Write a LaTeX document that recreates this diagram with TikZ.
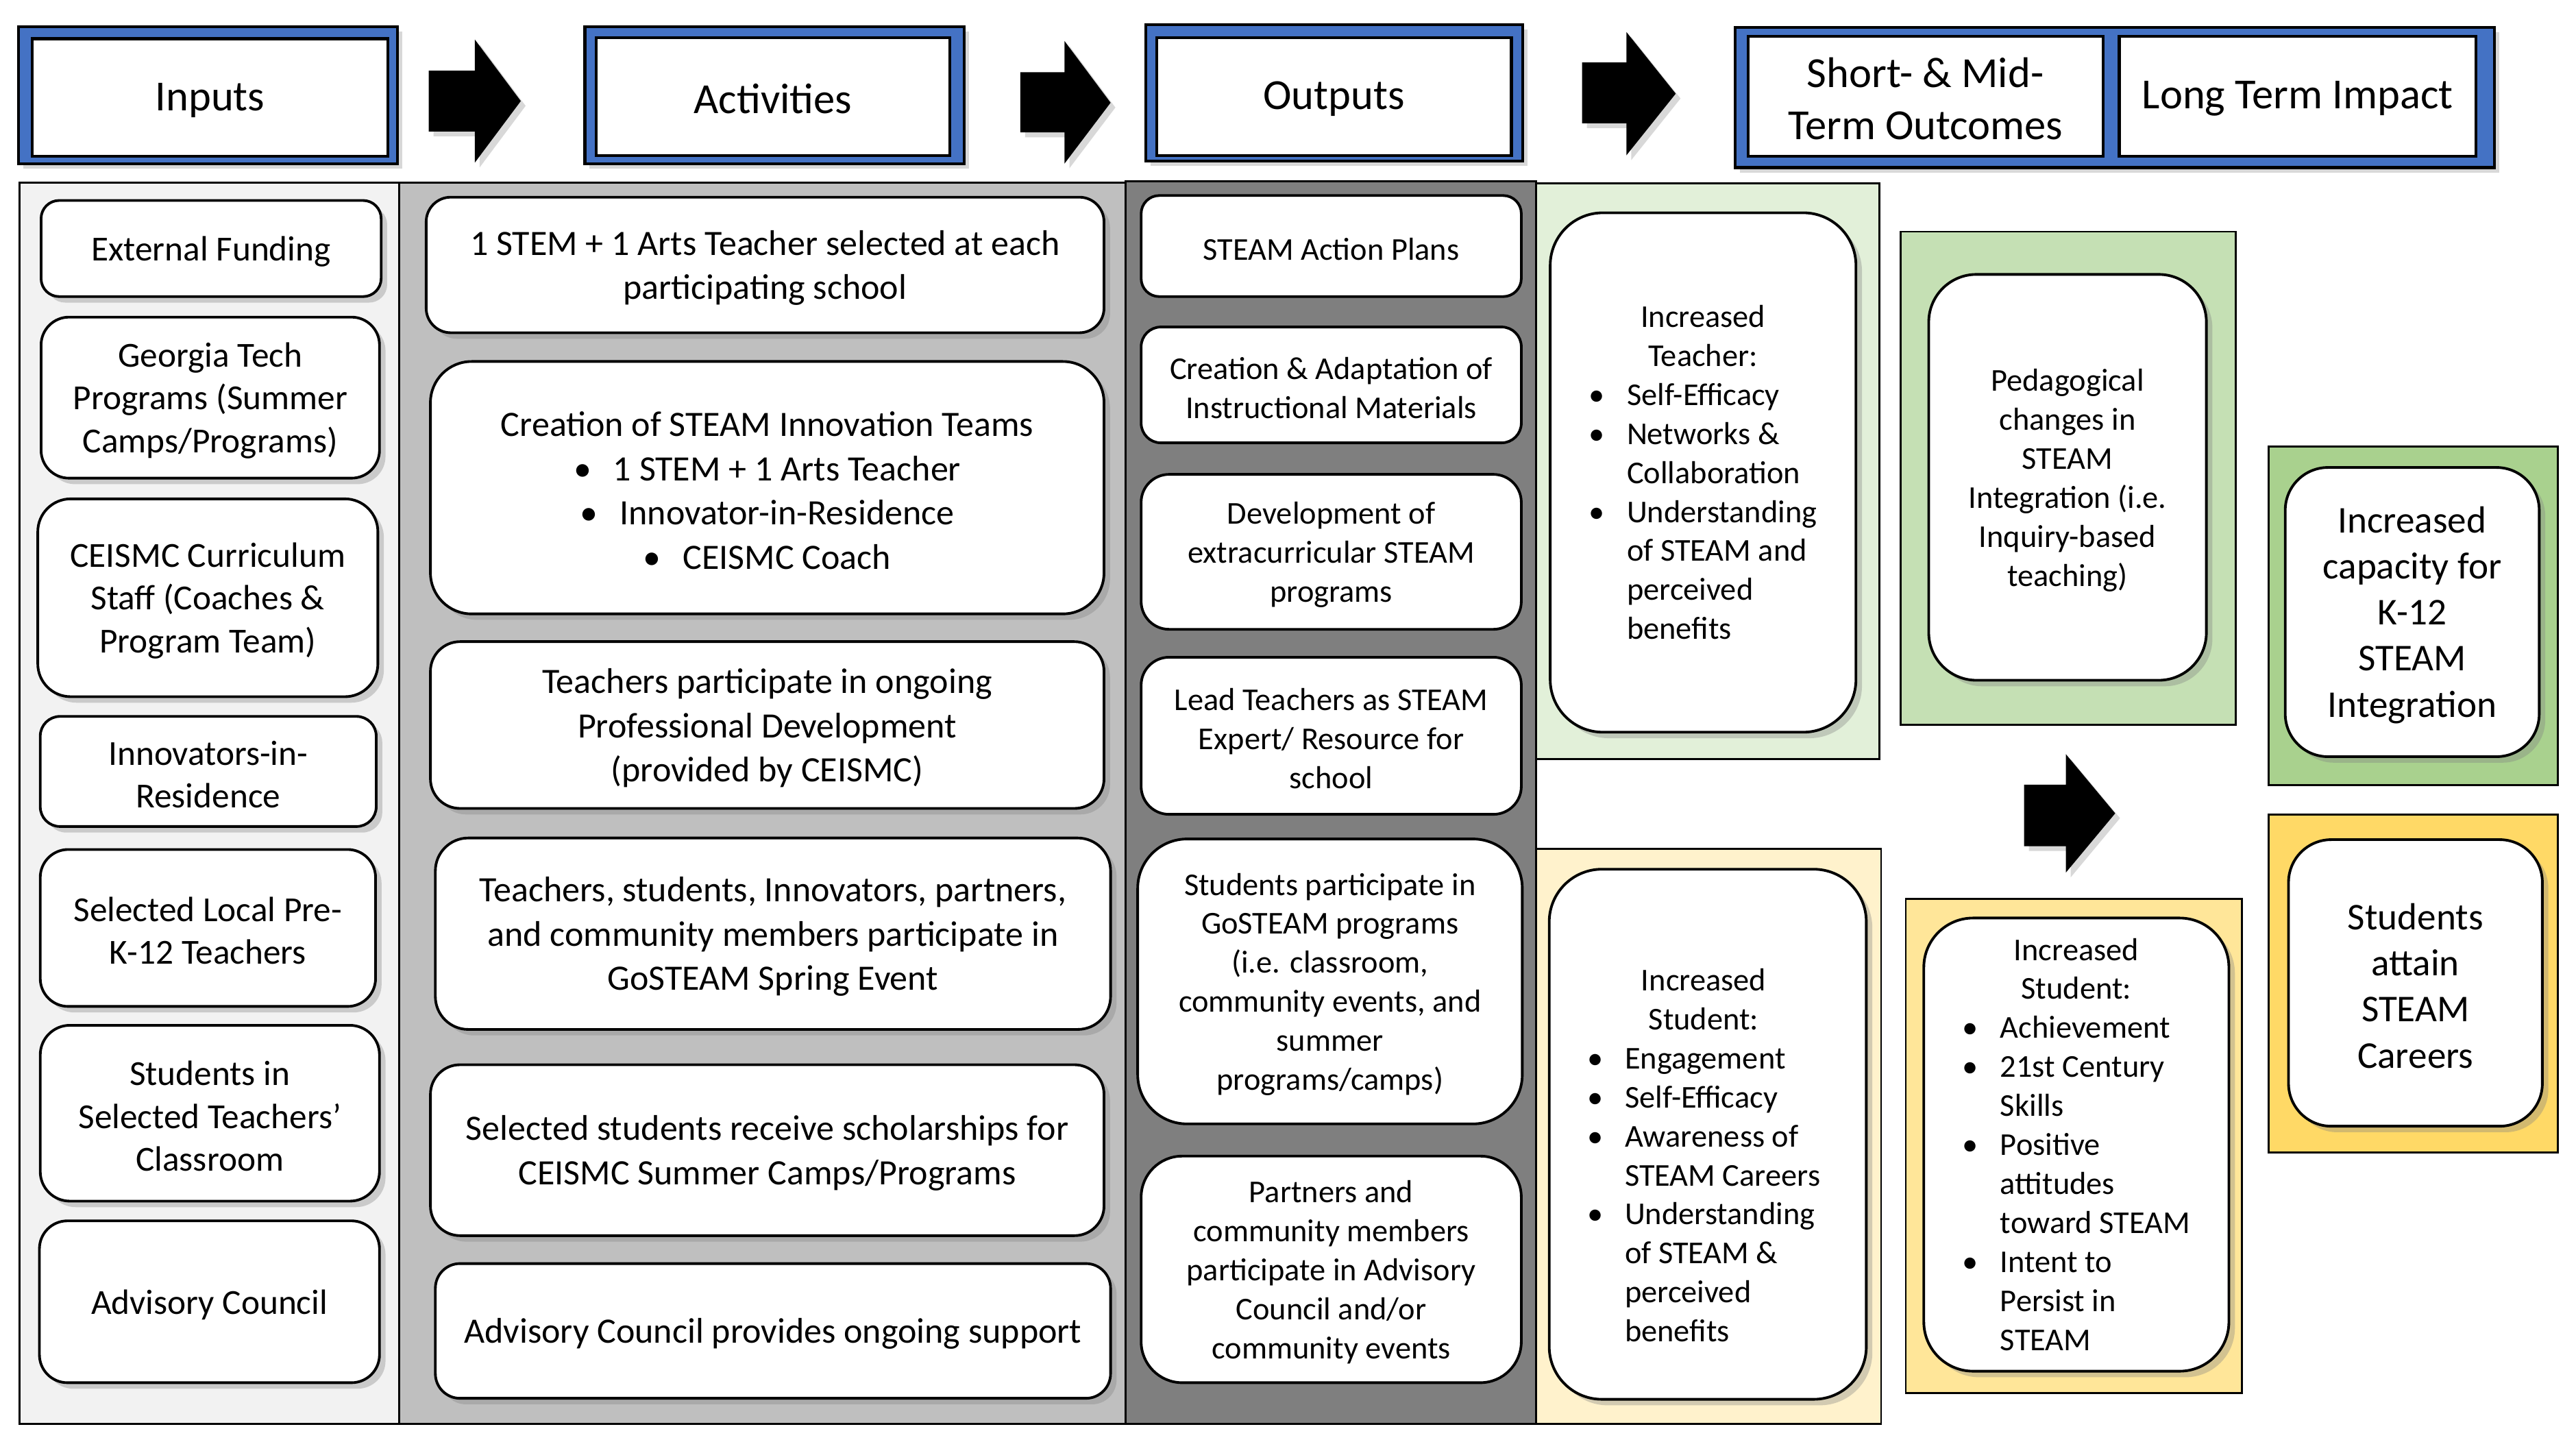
\documentclass[tikz,border=0pt]{standalone}
\usepackage{fontspec}
\setmainfont{Carlito}
\usetikzlibrary{shadows}
\newcommand{\uu}{0.023973cm}
\definecolor{hdrblue}{HTML}{4472C4}
\definecolor{pin}{HTML}{F2F2F2}
\definecolor{pact}{HTML}{BFBFBF}
\definecolor{pout}{HTML}{7F7F7F}
\definecolor{gA}{HTML}{E2F0D9}
\definecolor{gB}{HTML}{C5E0B4}
\definecolor{gC}{HTML}{A9D18E}
\definecolor{yA}{HTML}{FFF2CC}
\definecolor{yB}{HTML}{FFE699}
\definecolor{yC}{HTML}{FFD966}
\tikzset{
  panel/.style={draw=black, line width=0.8pt, inner sep=0pt},
  rbox/.style={draw=black, line width=1.1pt, fill=white, inner sep=0pt,
    drop shadow={shadow xshift=2.5pt, shadow yshift=-2.5pt, opacity=0.35}},
  btext/.style={inner sep=0pt, align=center},
  hout/.style={draw=black, line width=1.2pt, fill=hdrblue, inner sep=0pt,
    drop shadow={shadow xshift=2pt, shadow yshift=-2pt, opacity=0.3}},
  hin/.style={draw=black, line width=1.2pt, fill=white, inner sep=0pt},
  fhdr/.style={font=\fontsize{17.8}{21.8}\selectfont},
  fin/.style={font=\fontsize{14.6}{17.7}\selectfont},
  fact/.style={font=\fontsize{14.8}{18.4}\selectfont},
  fout/.style={font=\fontsize{13.2}{16.2}\selectfont},
  flong/.style={font=\fontsize{15.7}{19.1}\selectfont},
  blockarrow/.style={fill=black, drop shadow={shadow xshift=2pt, shadow yshift=-2pt, opacity=0.3}},
}
% rounded box with text: name, x1, y1, x2, y2, radius, font style, text
\newcommand{\bx}[8]{\node[rbox,rounded corners=#6*\uu,minimum width={(#4-#2)*\uu},minimum height={(#5-#3)*\uu}] (#1) at ({(#2+#4)/2},{(#3+#5)/2}) {};
\node[btext,#7] (#1-t) at ([yshift=-1.8*\uu]#1.center) {#8};}
% plain rectangle: name, x1, y1, x2, y2, style
\newcommand{\pn}[6]{\node[#6,minimum width={(#4-#2)*\uu},minimum height={(#5-#3)*\uu}] (#1) at ({(#2+#4)/2},{(#3+#5)/2}) {};}
% header inner box with text
\newcommand{\hb}[6]{\pn{#1}{#2}{#3}{#4}{#5}{hin}
\node[btext,fhdr] (#1-t) at ([yshift=-1.5*\uu]#1.center) {#6};}
\newcommand{\bul}{\textbullet}
\begin{document}
\begin{tikzpicture}[x=\uu, y=-\uu]
\useasboundingbox (0,0) rectangle (1568,876);
\fill[white] (0,0) rectangle (1568,876);

% ---------- header ----------
\pn{hin-o}{11.4}{16.4}{242}{99.8}{hout}
\hb{hin}{19.7}{23.6}{236}{95.2}{Inputs}
\pn{hac-o}{356}{16.4}{587}{99.8}{hout}
\hb{hac}{363}{23}{578}{94.6}{Activities}
\pn{hou-o}{697.5}{15}{927}{98}{hout}
\hb{hou}{704}{23}{920}{94.6}{Outputs}
\pn{hsm-o}{1056}{16.7}{1518.5}{102}{hout}
\hb{hsm}{1064}{22}{1280}{95}{Short- \& Mid-\\Term Outcomes}
\hb{hlt}{1290}{22}{1507}{95}{Long Term Impact}

\fill[blockarrow] (261,43) -- (289,43) -- (289,24) -- (317,61.5) -- (289,99) -- (289,80) -- (261,80) -- cycle;
\fill[blockarrow] (621,44) -- (648,44) -- (648,25) -- (676,62.5) -- (648,99.5) -- (648,80.6) -- (621,80.6) -- cycle;
\fill[blockarrow] (963,38) -- (990,38) -- (990,19.5) -- (1020,57) -- (990,94.5) -- (990,75) -- (963,75) -- cycle;

% ---------- panels ----------
\pn{pIn}{12}{111}{243}{866.5}{panel,fill=pin}
\pn{pAc}{243}{111}{685}{866.5}{panel,fill=pact}
\pn{pOu}{685}{110.3}{935}{866.5}{panel,fill=pout}
\pn{pST}{935}{111.5}{1144}{462}{panel,fill=gA}
\pn{pSS}{935}{516.5}{1145}{866.5}{panel,fill=yA}
\pn{pMT}{1157}{141}{1361}{441}{panel,fill=gB}
\pn{pMS}{1160}{547}{1364.5}{847.7}{panel,fill=yB}
\pn{pLC}{1381}{271.7}{1557}{477.7}{panel,fill=gC}
\pn{pLK}{1381}{495.6}{1557}{701.3}{panel,fill=yC}

\fill[blockarrow] (1232,477.6) -- (1257.5,477.6) -- (1257.5,459) -- (1287.5,495) -- (1257.5,531) -- (1257.5,515) -- (1232,515) -- cycle;

% ---------- inputs ----------
\bx{in1}{25}{122}{232}{180.5}{11}{fin}{External Funding}
\bx{in2}{25}{193}{231}{291}{17}{fin}{Georgia Tech\\Programs (Summer\\Camps/Programs)}
\bx{in3}{23}{303.6}{230}{424}{20}{fin}{CEISMC Curriculum\\Staff (Coaches \&\\Program Team)}
\bx{in4}{24.5}{436}{229}{503}{12}{fin}{Innovators-in-\\Residence}
\bx{in5}{24.5}{517}{228.6}{612.5}{17}{fin}{Selected Local Pre-\\K-12 Teachers}
\bx{in6}{24.5}{624}{231}{731}{18}{fin}{Students in\\Selected Teachers’\\Classroom}
\bx{in7}{24}{743}{231}{841.5}{17}{fin}{Advisory Council}

% ---------- activities ----------
\bx{ac1}{259.4}{120}{672}{202.5}{15}{fact}{1 STEM + 1 Arts Teacher selected at each\\participating school}
\bx{ac2}{262}{220}{672}{373.6}{25}{fact}{Creation of STEAM Innovation Teams\\\bul\hspace{0.32cm}1 STEM + 1 Arts Teacher\\\bul\hspace{0.32cm}Innovator-in-Residence\\\bul\hspace{0.32cm}CEISMC Coach}
\bx{ac3}{262}{390.5}{672}{492}{18}{fact}{Teachers participate in ongoing\\Professional Development\\(provided by CEISMC)}
\bx{ac4}{265}{510}{676}{626.5}{20}{fact}{Teachers, students, Innovators, partners,\\and community members participate in\\GoSTEAM Spring Event}
\bx{ac5}{262}{648}{672}{752}{18}{fact}{Selected students receive scholarships for\\CEISMC Summer Camps/Programs}
\bx{ac6}{265}{769}{676}{851}{15}{fact}{Advisory Council provides ongoing support}

% ---------- outputs ----------
\bx{ou1}{694.6}{119}{926}{180.5}{11}{fout}{STEAM Action Plans}
\bx{ou2}{694.6}{199}{926}{269.5}{12}{fout}{Creation \& Adaptation of\\Instructional Materials}
\bx{ou3}{694.6}{288.7}{926}{383}{17}{fout}{Development of\\extracurricular STEAM\\programs}
\bx{ou4}{694.6}{400}{926}{495.6}{17}{fout}{Lead Teachers as STEAM\\Expert/ Resource for\\school}
\bx{ou5}{692.5}{510.6}{926.6}{684}{30}{fout}{Students participate in\\GoSTEAM programs\\(i.e. classroom,\\community events, and\\summer\\programs/camps)}
\bx{ou6}{694.6}{703.6}{926}{841.5}{25}{fout}{Partners and\\community members\\participate in Advisory\\Council and/or\\community events}

% ---------- outcomes ----------
\bx{st}{943.6}{129.5}{1129.7}{445.6}{32}{fout}{\begin{tabular}{@{}l@{\hspace{0.32cm}}l@{}}
\multicolumn{2}{c}{Increased}\\
\multicolumn{2}{c}{Teacher:}\\
\bul & Self-Efficacy\\
\bul & Networks \&\\
 & Collaboration\\
\bul & Understanding\\
 & of STEAM and\\
 & perceived\\
 & benefits
\end{tabular}}
\pn{ss}{943}{529}{1136}{851.6}{rbox,rounded corners=32*\uu}
\node[btext,fout] (ss-t) at (1037,705) {\begin{tabular}{@{}l@{\hspace{0.32cm}}l@{}}
\multicolumn{2}{c}{Increased}\\
\multicolumn{2}{c}{Student:}\\
\bul & Engagement\\
\bul & Self-Efficacy\\
\bul & Awareness of\\
 & STEAM Careers\\
\bul & Understanding\\
 & of STEAM \&\\
 & perceived\\
 & benefits
\end{tabular}};
\bx{mt}{1174}{167}{1343}{414}{29}{fout}{Pedagogical\\changes in\\STEAM\\Integration (i.e.\\Inquiry-based\\teaching)}
\bx{ms}{1171}{558.7}{1356.7}{834.5}{30}{fout}{\begin{tabular}{@{}l@{\hspace{0.32cm}}l@{}}
\multicolumn{2}{c}{Increased}\\
\multicolumn{2}{c}{Student:}\\
\bul & Achievement\\
\bul & 21st Century\\
 & Skills\\
\bul & Positive\\
 & attitudes\\
 & toward STEAM\\
\bul & Intent to\\
 & Persist in\\
 & STEAM
\end{tabular}}
\bx{lc}{1391}{284.5}{1545.6}{460.5}{26}{flong}{Increased\\capacity for\\K-12\\STEAM\\Integration}
\bx{lk}{1393}{511}{1547.5}{685.4}{26}{flong}{Students\\attain\\STEAM\\Careers}
\end{tikzpicture}
\end{document}
